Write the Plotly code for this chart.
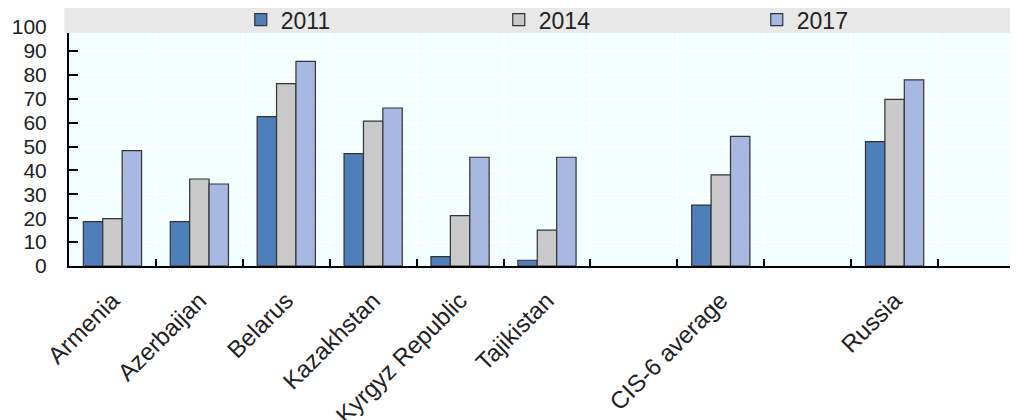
import plotly.graph_objects as go

# categories (blank slots keep the gaps of the original chart)
countries = ["Armenia", "Azerbaijan", "Belarus", "Kazakhstan", "Kyrgyz Republic",
             "Tajikistan", " ", "CIS-6 average", "  ", "Russia", "   "]

y2011 = [18.6, 18.6, 62.5, 47.0, 3.9, 2.4, None, 25.5, None, 52.0, None]
y2014 = [19.8, 36.4, 76.3, 60.6, 21.1, 15.0, None, 38.1, None, 69.7, None]
y2017 = [48.3, 34.3, 85.6, 66.1, 45.5, 45.5, None, 54.2, None, 77.9, None]

years = ["2011", "2014", "2017"]
colors = ["#4E7FBA", "#C9C9C9", "#A7B9E3"]

FONT = "Liberation Sans, Arial, sans-serif"

fig = go.Figure()
for name, vals, col in zip(years, [y2011, y2014, y2017], colors):
    fig.add_trace(go.Bar(
        x=countries,
        y=vals,
        name=name,
        marker=dict(color=col, line=dict(color="#333333", width=1.2)),
    ))

# grey band behind the legend
fig.add_shape(type="rect", xref="paper", yref="paper",
              x0=-0.005, x1=1.0, y0=0.975, y1=1.088,
              fillcolor="#E8E8E8", line_width=0, layer="above")

# page body adds an 8px offset, margins account for it
fig.update_layout(
    width=1018,
    height=420,
    margin=dict(l=61, r=8, t=19, b=162, autoexpand=False),
    paper_bgcolor="white",
    plot_bgcolor="#F3FEFE",
    barmode="group",
    bargap=0.33,
    bargroupgap=0,
    font=dict(family=FONT, size=20, color="#222222"),
    showlegend=True,
    legend=dict(
        orientation="h",
        x=0.181, xanchor="left",
        y=1.031, yanchor="middle",
        bgcolor="rgba(0,0,0,0)",
        entrywidth=213, entrywidthmode="pixels",
        font=dict(family=FONT, size=23, color="#222222"),
        itemclick=False,
    ),
)

fig.update_xaxes(
    range=[-0.5, 10.42],
    automargin=False,
    tickson="boundaries",
    ticks="inside",
    ticklen=7,
    tickwidth=2,
    tickcolor="black",
    tickangle=-45,
    ticklabelstandoff=9,
    showline=True,
    linecolor="black",
    linewidth=2,
    showgrid=True,
    gridcolor="white",
    gridwidth=2,
    tickfont=dict(family=FONT, size=24, color="#222222"),
)

fig.update_yaxes(
    range=[0, 100],
    automargin=False,
    dtick=10,
    ticks="inside",
    ticklen=9,
    tickwidth=2,
    tickcolor="black",
    ticklabelstandoff=16,
    showline=True,
    linecolor="black",
    linewidth=2,
    showgrid=True,
    gridcolor="white",
    gridwidth=2,
    zeroline=False,
    tickfont=dict(family=FONT, size=21, color="#222222"),
)

fig.write_html("out.html")
